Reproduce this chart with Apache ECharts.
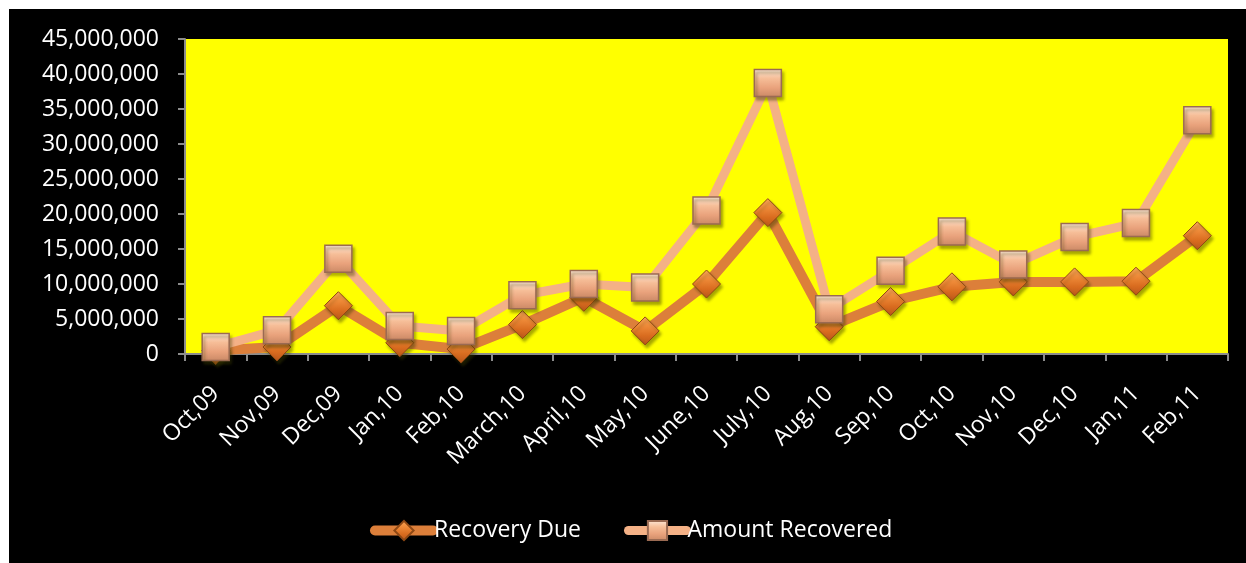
<!DOCTYPE html>
<html>
<head>
<meta charset="utf-8">
<title>Recovery Due vs Amount Recovered</title>
<script src="https://cdn.jsdelivr.net/npm/echarts@6/dist/echarts.min.js"></script>
<style>
  html, body { margin: 0; padding: 0; background: #ffffff; width: 1246px; height: 563px; overflow: hidden; }
  #chart { position: absolute; left: 9px; top: 9px; width: 1237px; height: 554px; }
</style>
</head>
<body>
<div id="chart"></div>
<script>
// Monthly figures, Oct 2009 – Feb 2011
const months = ['Oct,09', 'Nov,09', 'Dec,09', 'Jan,10', 'Feb,10', 'March,10', 'April,10', 'May,10',
  'June,10', 'July,10', 'Aug,10', 'Sep,10', 'Oct,10', 'Nov,10', 'Dec,10', 'Jan,11', 'Feb,11'];

const recoveryDue = [500000, 1000000, 6900000, 1600000, 700000, 4200000, 8100000, 3300000,
  10000000, 20200000, 3900000, 7500000, 9600000, 10300000, 10300000, 10400000, 16900000];

const amountRecovered = [1000000, 3400000, 13600000, 4000000, 3300000, 8400000, 10000000, 9500000,
  20500000, 38700000, 6400000, 11900000, 17500000, 12800000, 16700000, 18700000, 33400000];

const yMin = 0, yMax = 45000000, yStep = 5000000;

const FONT = '"Open Sans", "Liberation Sans", sans-serif';

function vGrad(stops) {
  return new echarts.graphic.LinearGradient(0, 0, 0, 1,
    stops.map(function (c, i) { return { offset: i / (stops.length - 1), color: c }; }));
}

const markerShadow = {
  shadowBlur: 3,
  shadowColor: 'rgba(60, 60, 0, 0.45)',
  shadowOffsetX: 2,
  shadowOffsetY: 3
};

const chart = echarts.init(document.getElementById('chart'), null, { renderer: 'canvas' });

chart.setOption({
  backgroundColor: '#000000',
  animation: false,
  textStyle: { fontFamily: FONT },
  grid: {
    left: 176, right: 18, top: 30, bottom: 209,
    show: true,
    backgroundColor: '#FFFF00',
    borderWidth: 0
  },
  legend: {
    left: 356,
    top: 505,
    itemWidth: 58,
    itemHeight: 24,
    itemGap: 43,
    lineStyle: { width: 'inherit', join: 'round', cap: 'round' },
    textStyle: { color: '#ffffff', fontSize: 23, fontFamily: FONT, padding: [0, 0, 0, -4] },
    data: ['Recovery Due', 'Amount Recovered']
  },
  xAxis: {
    type: 'category',
    data: months,
    boundaryGap: true,
    axisLine: { show: true, lineStyle: { color: '#8c8c8c', width: 2 } },
    axisTick: { show: true, alignWithLabel: false, length: 7, lineStyle: { color: '#8c8c8c', width: 2 } },
    axisLabel: {
      color: '#ffffff',
      fontSize: 23,
      fontFamily: FONT,
      rotate: 45,
      margin: 36,
      interval: 0
    },
    splitLine: { show: false }
  },
  yAxis: {
    type: 'value',
    min: yMin,
    max: yMax,
    interval: yStep,
    axisLine: { show: true, lineStyle: { color: '#8c8c8c', width: 2 } },
    axisTick: { show: true, length: 7, lineStyle: { color: '#8c8c8c', width: 2 } },
    axisLabel: {
      color: '#ffffff',
      fontSize: 23,
      fontFamily: FONT,
      margin: 26,
      formatter: function (v) { return v.toLocaleString('en-US'); }
    },
    splitLine: { show: false }
  },
  series: [
    {
      name: 'Recovery Due',
      type: 'line',
      data: recoveryDue,
      symbol: 'diamond',
      symbolSize: 28,
      lineStyle: { color: '#DC7F3A', width: 10, cap: 'round', join: 'round' },
      itemStyle: Object.assign({
        color: vGrad(['#F9A85C', '#EE8A38', '#D96C1F', '#B9561A']),
        borderColor: '#8E4814',
        borderWidth: 1
      }, markerShadow),
      z: 2
    },
    {
      name: 'Amount Recovered',
      type: 'line',
      data: amountRecovered,
      symbol: 'rect',
      symbolSize: 27,
      lineStyle: { color: '#F4B186', width: 9, cap: 'round', join: 'round' },
      itemStyle: Object.assign({
        color: vGrad(['#FEEADB', '#F6BE98', '#E9A27C', '#C98865']),
        borderColor: '#9A6A52',
        borderWidth: 1.5
      }, markerShadow),
      z: 3
    }
  ]
});
</script>
</body>
</html>
